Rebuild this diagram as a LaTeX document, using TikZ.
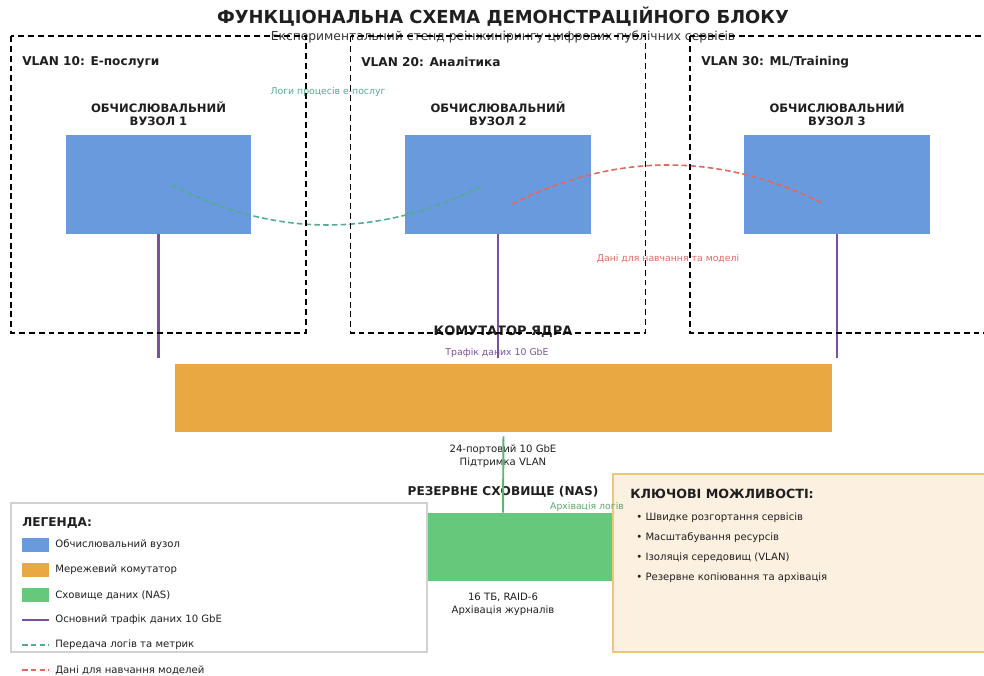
\documentclass[tikz,border=0pt]{standalone}
\usepackage{fontspec}
\setmainfont{DejaVu Sans}
\usetikzlibrary{calc}
\definecolor{nodeblue}{RGB}{106,154,222}
\definecolor{switchorange}{RGB}{232,168,66}
\definecolor{nasgreen}{RGB}{102,200,122}
\definecolor{trafficpurple}{RGB}{123,80,160}
\definecolor{logteal}{RGB}{82,172,142}
\definecolor{trainred}{RGB}{220,106,94}
\definecolor{keyfill}{RGB}{252,241,225}
\definecolor{keydraw}{RGB}{236,198,122}

\begin{document}
\begin{tikzpicture}[x=0.02cm,y=-0.02cm]
  \tikzset{every node/.style={inner sep=0pt,text=black!88},font=\fontsize{5.75}{7.2}\selectfont}
  \tikzstyle{vlan}=[black,line width=0.8pt,dash pattern=on 3.4pt off 2.2pt]
  \tikzstyle{compute}=[fill=nodeblue,minimum width=3.72cm,minimum height=1.98cm]
  \tikzstyle{traffic}=[trafficpurple,line width=1.6pt]
  \tikzstyle{logs}=[logteal,line width=0.9pt,dash pattern=on 3.2pt off 1.8pt]
  \tikzstyle{train}=[trainred,line width=0.9pt,dash pattern=on 3.2pt off 1.8pt]
  \tikzstyle{head}=[font=\bfseries\fontsize{6.9}{7.4}\selectfont,align=center]
  \tikzstyle{nodehead}=[font=\bfseries\fontsize{6.6}{7.3}\selectfont,align=center]
  \tikzstyle{small}=[font=\fontsize{5.3}{6.4}\selectfont]
  \tikzstyle{swatch}=[minimum width=0.54cm,minimum height=0.28cm]

  \useasboundingbox (0,0) rectangle (984,676);

  % blocks
  \node[fill=switchorange,minimum width=13.14cm,minimum height=1.36cm] (sw) at (503.5,398) {};
  \node[fill=nasgreen,minimum width=4.4cm,minimum height=1.36cm] (nas) at (503,547) {};
  \foreach \i/\x in {1/158.5,2/498,3/837}{
    \node[compute] (n\i) at (\x,184.5) {};
    \node[nodehead,above=0.18cm] (lab\i) at (n\i.north) {ОБЧИСЛЮВАЛЬНИЙ\\ВУЗОЛ \i};
  }

  % legend and key box
  \draw[black!18,fill=white,line width=0.6pt] (11,503) coordinate (legA) rectangle (427,652) coordinate (legB);
  \draw[keydraw,fill=keyfill,line width=0.9pt] (613,474) coordinate (keyA) rectangle (995,652) coordinate (keyB);

  % data flows between nodes
  \draw[logs] ($(n1.center)+(13,0.5)$) .. controls +(104,53.3) and +(-104,53.3) .. ($(n2.center)+(-14,0.5)$);
  \draw[train] ($(n2.center)+(14,19.5)$) .. controls +(104,-52) and +(-104,-52) .. ($(n3.center)+(-13,19.5)$);

  % labels
  \node[font=\bfseries\fontsize{10.2}{12}\selectfont] (title) at (503,17) {ФУНКЦІОНАЛЬНА СХЕМА ДЕМОНСТРАЦІЙНОГО БЛОКУ};
  \node[font=\fontsize{7}{8}\selectfont,text=black!80] (subtitle) at (503,37) {Експериментальний стенд реінжинірингу цифрових публічних сервісів};
  \node[head,anchor=west] (v10) at (22,62) {VLAN 10: E-послуги};
  \node[head,anchor=west] (v20) at (361,62) {VLAN 20: Аналітика};
  \node[head,anchor=west] (v30) at (701,62) {VLAN 30: ML/Training};
  \node[small,text=logteal] (loglab) at (328,92) {Логи процесів e-послуг};
  \node[small,text=trainred] (trainlab) at (668,259) {Дані для навчання та моделі};
  \node[font=\bfseries\fontsize{7.4}{8}\selectfont] (swlab) at (503,332) {КОМУТАТОР ЯДРА};
  \node[small,text=trafficpurple] (trafficlab) at (497,353) {Трафік даних 10 GbE};
  \node[align=center] (swinfo) at (503,456.5) {24-портовий 10 GbE\\Підтримка VLAN};
  \node[head] (naslab) at (503,492) {РЕЗЕРВНЕ СХОВИЩЕ (NAS)};
  \node[small,text=nasgreen!85!black] (archlab) at (587,507) {Архівація логів};
  \node[align=center] (nasinfo) at (503,604) {16 ТБ, RAID-6\\Архівація журналів};

  % legend
  \node[head,anchor=west] (leglab) at (22,523) {ЛЕГЕНДА:};
  \foreach \y/\c/\t [count=\i] in {545/nodeblue/Обчислювальний вузол,570/switchorange/Мережевий комутатор,595/nasgreen/Сховище даних (NAS)}{
    \node[swatch,fill=\c] (sample\i) at (35.5,\y) {};
    \node[anchor=west] (entry\i) at (55,\y) {\t};
  }
  \draw[traffic] (22,620) -- (49,620);
  \node[anchor=west] (entry4) at (55,620) {Основний трафік даних 10 GbE};
  \draw[logs] (22,645) -- (49,645);
  \node[anchor=west] (entry5) at (55,645) {Передача логів та метрик};
  \draw[train] (22,670) -- (49,670);
  \node[anchor=west] (entry6) at (55,670) {Дані для навчання моделей};

  % key features
  \node[font=\bfseries\fontsize{7.2}{8}\selectfont,anchor=west] (keylab) at (630,494) {КЛЮЧОВІ МОЖЛИВОСТІ:};
  \foreach \y/\t [count=\i] in {518/Швидке розгортання сервісів,538/Масштабування ресурсів,558/Ізоляція середовищ (VLAN),578/Резервне копіювання та архівація}{
    \node[anchor=west] (feat\i) at (636,\y) {• \t};
  }

  % links
  \foreach \i in {1,2,3}{
    \draw[traffic,shorten >=3.4pt] (n\i.south) -- (n\i.south |- sw.north);
  }
  \draw[nasgreen!90!black,line width=1.1pt,shorten <=2.3pt] (sw.south) -- (nas.north);

  % vlan zones
  \draw[vlan] (11,36) rectangle ++(295,297);
  \draw[vlan] (350.5,36) rectangle ++(295,297);
  \draw[vlan] (690,36) rectangle ++(296,297);

\end{tikzpicture}
\end{document}
